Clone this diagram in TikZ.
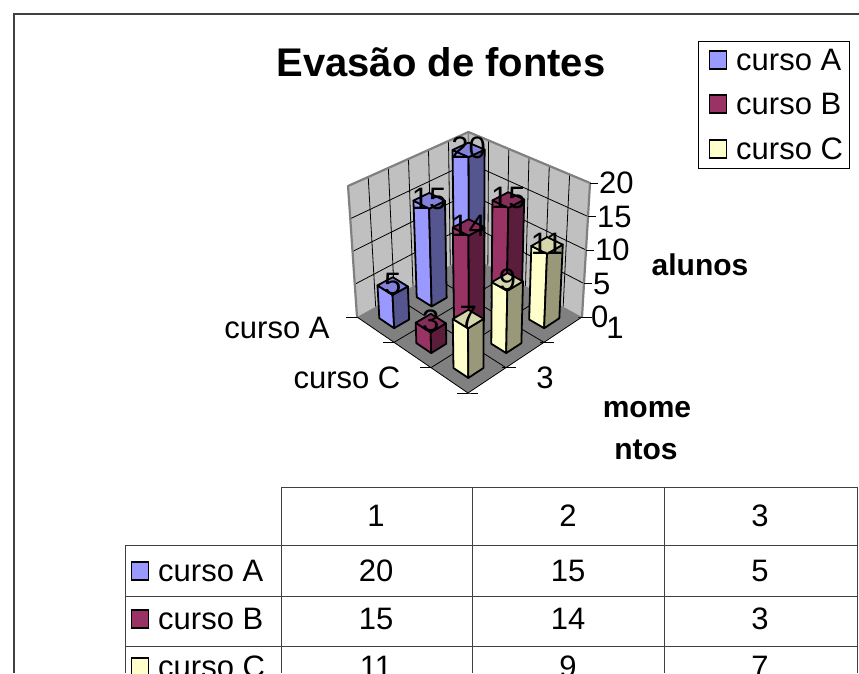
\documentclass[tikz,border=0pt]{standalone}
\usepackage{fontspec}
\setmainfont{Liberation Sans}
\definecolor{aF}{HTML}{9999FF}
\definecolor{aS}{HTML}{55558F}
\definecolor{aT}{HTML}{8282DD}
\definecolor{bF}{HTML}{993366}
\definecolor{bS}{HTML}{5A1E3C}
\definecolor{bT}{HTML}{862D59}
\definecolor{cF}{HTML}{FFFFCC}
\definecolor{cS}{HTML}{99997A}
\definecolor{cT}{HTML}{D6D6AD}
\definecolor{wallc}{HTML}{C0C0C0}
\definecolor{floorc}{HTML}{808080}
\newcommand\Pt[4]{%
 \pgfmathsetmacro\PtA{(#2)/3}%
 \pgfmathsetmacro\PtB{(#3)/3}%
 \pgfmathsetmacro\PtX{469*(1-\PtA)*(1-\PtB)+582*\PtA*(1-\PtB)+357*(1-\PtA)*\PtB+468*\PtA*\PtB}%
 \pgfmathsetmacro\PtY{255*(1-\PtA)*(1-\PtB)+317*\PtA*(1-\PtB)+317*(1-\PtA)*\PtB+393*\PtA*\PtB}%
 \pgfmathsetmacro\PtS{(123*(1-\PtA)*(1-\PtB)+134*\PtA*(1-\PtB)+131*(1-\PtA)*\PtB+144*\PtA*\PtB)/20*(#4)}%
 \pgfmathsetmacro\PtT{(\PtX-477)/(2069-\PtY)}%
 \coordinate (#1) at ({\PtX+\PtT*\PtS},{\PtS-\PtY});%
}
\newcommand\Col[6]{%
 \Pt{lb}{#1+0.3}{#2+0.7}{0}%
 \Pt{fb}{#1+0.7}{#2+0.7}{0}%
 \Pt{rb}{#1+0.7}{#2+0.3}{0}%
 \Pt{lt}{#1+0.3}{#2+0.7}{#3}%
 \Pt{ft}{#1+0.7}{#2+0.7}{#3}%
 \Pt{rt}{#1+0.7}{#2+0.3}{#3}%
 \Pt{bt}{#1+0.3}{#2+0.3}{#3}%
 \filldraw[colline,fill=#4] (lb)--(fb)--(ft)--(lt)--cycle;
 \filldraw[colline,fill=#5] (fb)--(rb)--(rt)--(ft)--cycle;
 \filldraw[colline,fill=#6] (bt)--(rt)--(ft)--(lt)--cycle;
}
\tikzset{
 colline/.style={draw=black,line width=1.8pt,line join=round},
 gridl/.style={draw=black,line width=0.8pt},
 wallborder/.style={draw=gray,line width=2.2pt,line join=round},
 tickl/.style={draw=black,line width=0.9pt},
 txt/.style={font=\fontsize{31}{36}\selectfont,inner sep=0pt},
 btxt/.style={font=\fontsize{30}{36}\selectfont\bfseries,inner sep=0pt},
 vlab/.style={font=\fontsize{31}{36}\selectfont,inner sep=0pt},
 key/.style={draw=black,line width=1.8pt,minimum width=17pt,minimum height=18pt,inner sep=0pt},
 tline/.style={draw=black!75,line width=1pt},
}
\begin{document}
\begin{tikzpicture}[x=1pt,y=1pt]
\useasboundingbox (0,0) rectangle (859,-673);
% frame
\draw[draw=black!75,line width=1.2pt] (14,-673) -- (14,-14) -- (859,-14);
% title
\node[font=\fontsize{40}{46}\selectfont\bfseries,inner sep=0pt] (title) at (441,-62) {Evasão de fontes};
% legend
\draw[line width=1pt] (698,-41) rectangle (849,-168);
\node[key,fill=aF] (lkA) at (718,-60) {};
\node[key,fill=bF] (lkB) at (718,-104) {};
\node[key,fill=cF] (lkC) at (718,-149) {};
\node[txt,anchor=west] (ltA) at (736,-60) {curso A};
\node[txt,anchor=west] (ltB) at (736,-104) {curso B};
\node[txt,anchor=west] (ltC) at (736,-149) {curso C};
% walls
\Pt{wl0}{0}{3}{0}\Pt{wl1}{0}{3}{20}\Pt{wb0}{0}{0}{0}\Pt{wb1}{0}{0}{20}\Pt{wr0}{3}{0}{0}\Pt{wr1}{3}{0}{20}
\fill[wallc] (wl0)--(wl1)--(wb1)--(wb0)--cycle;
\fill[wallc] (wb0)--(wb1)--(wr1)--(wr0)--cycle;
\foreach \k in {0.5,1,...,2.5}{
 \Pt{p}{0}{\k}{0}\Pt{q}{0}{\k}{20}\draw[gridl] (p)--(q);
 \Pt{p}{\k}{0}{0}\Pt{q}{\k}{0}{20}\draw[gridl] (p)--(q);
}
\foreach \h in {5,10,15}{
 \Pt{p}{0}{3}{\h}\Pt{q}{0}{0}{\h}\Pt{r}{3}{0}{\h}\draw[gridl] (p)--(q)--(r);
}
\draw[wallborder] (wl0)--(wl1)--(wb1)--(wr1)--(wr0);
\draw[draw=gray,line width=1.5pt] (wb0)--(wb1);
% floor
\Pt{f0}{0}{0}{0}\Pt{f1}{3}{0}{0}\Pt{f2}{3}{3}{0}\Pt{f3}{0}{3}{0}
\fill[floorc] (f0)--(f1)--(f2)--(f3)--cycle;
\foreach \k in {1,2}{
 \Pt{p}{\k}{0}{0}\Pt{q}{\k}{3}{0}\draw[gridl] (p)--(q);
 \Pt{p}{0}{\k}{0}\Pt{q}{3}{\k}{0}\draw[gridl] (p)--(q);
}
\draw[gridl] (f3)--(f2)--(f1);
% ticks on category axes
\foreach \k in {0,1,2,3}{
 \Pt{p}{\k}{3}{0}\draw[tickl] (p) -- ++(-11,0);
 \Pt{p}{3}{\k}{0}\draw[tickl] (p) -- ++(-4,0) -- ++(14,0);
}
% value axis ticks and labels
\foreach \h in {0,5,10,15,20}{
 \Pt{p}{3}{0}{\h}\draw[tickl] (p) -- ++(8,0) coordinate (te);
 \node[txt,anchor=west] (vl\h) at ([xshift=1pt]te) {\h};
}
% bars back to front
\Col{0}{0}{20}{aF}{aS}{aT}
\Col{1}{0}{15}{bF}{bS}{bT}
\Col{0}{1}{15}{aF}{aS}{aT}
\Col{2}{0}{11}{cF}{cS}{cT}
\Col{1}{1}{14}{bF}{bS}{bT}
\Col{0}{2}{5}{aF}{aS}{aT}
\Col{2}{1}{9}{cF}{cS}{cT}
\Col{1}{2}{3}{bF}{bS}{bT}
\Col{2}{2}{7}{cF}{cS}{cT}
% value labels
\Pt{c}{0.5}{0.5}{20}\node[vlab] (nA1) at ([yshift=2pt]c) {20};
\Pt{c}{0.5}{1.5}{15}\node[vlab] (nA2) at ([yshift=2pt]c) {15};
\Pt{c}{0.5}{2.5}{5}\node[vlab] (nA3) at ([yshift=2pt]c) {5};
\Pt{c}{1.5}{0.5}{15}\node[vlab] (nB1) at ([yshift=2pt]c) {15};
\Pt{c}{1.5}{1.5}{14}\node[vlab] (nB2) at ([yshift=2pt]c) {14};
\Pt{c}{1.5}{2.5}{3}\node[vlab] (nB3) at ([yshift=2pt]c) {3};
\Pt{c}{2.5}{0.5}{11}\node[vlab] (nC1) at ([yshift=2pt]c) {11};
\Pt{c}{2.5}{1.5}{9}\node[vlab] (nC2) at ([yshift=2pt]c) {9};
\Pt{c}{2.5}{2.5}{7}\node[vlab] (nC3) at ([yshift=2pt]c) {7};
% category labels
\node[txt] (cA) at (277,-328) {curso A};
\node[txt] (cC) at (347,-378) {curso C};
\node[txt] (m1) at (615,-328) {1};
\node[txt] (m3) at (545,-378) {3};
% axis titles
\node[btxt] (ya) at (700,-265) {alunos};
\node[btxt] (xa1) at (647,-410) {mome};
\node[btxt] (xa2) at (646,-450) {ntos};
% table
\draw[tline] (281,-487) -- (857,-487);
\draw[tline] (125,-545) -- (857,-545);
\draw[tline] (125,-596) -- (857,-596);
\draw[tline] (125,-646) -- (857,-646);
\draw[tline] (125,-545) -- (125,-673);
\draw[tline] (281,-487) -- (281,-673);
\draw[tline] (472,-487) -- (472,-673);
\draw[tline] (664,-487) -- (664,-673);
\draw[tline] (857,-487) -- (857,-673);
\node[txt] (h1) at (376,-516) {1};
\node[txt] (h2) at (568,-516) {2};
\node[txt] (h3) at (760,-516) {3};
\node[key,fill=aF] (tkA) at (140,-571) {};
\node[key,fill=bF] (tkB) at (140,-619) {};
\node[key,fill=cF] (tkC) at (140,-667) {};
\node[txt,anchor=west] (trA) at (158,-571) {curso A};
\node[txt,anchor=west] (trB) at (158,-619) {curso B};
\node[txt,anchor=west] (trC) at (158,-667) {curso C};
\node[txt] (a1) at (376,-571) {20};
\node[txt] (a2) at (568,-571) {15};
\node[txt] (a3) at (760,-571) {5};
\node[txt] (b1) at (376,-619) {15};
\node[txt] (b2) at (568,-619) {14};
\node[txt] (b3) at (760,-619) {3};
\node[txt] (c1) at (376,-667) {11};
\node[txt] (c2) at (568,-667) {9};
\node[txt] (c3) at (760,-667) {7};
\end{tikzpicture}
\end{document}
